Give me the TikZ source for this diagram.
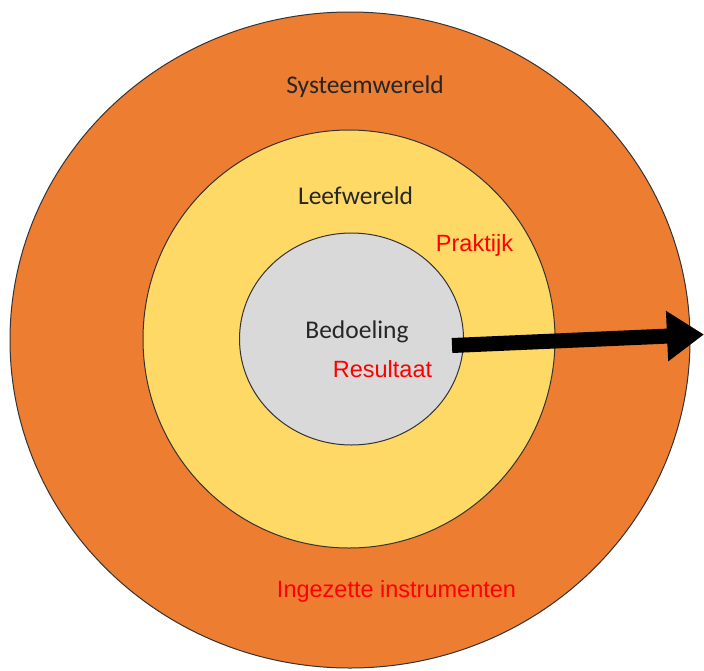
\documentclass[tikz,border=0pt]{standalone}
\usepackage{fontspec}
\usetikzlibrary{arrows.meta}
\newfontfamily\calib{Carlito}
\newfontfamily\arialf{Liberation Sans}
\definecolor{ringorange}{HTML}{ED7D31}
\definecolor{ringyellow}{HTML}{FFD966}
\definecolor{ringgray}{HTML}{D9D9D9}
\definecolor{darktext}{HTML}{262626}
\tikzset{
  ring/.style={draw=black!80, line width=1pt},
  worldlabel/.style={anchor=base, inner sep=0pt, text=darktext, font=\calib\fontsize{25.5}{30}\selectfont},
  redlabel/.style={anchor=base, inner sep=0pt, text=red, font=\arialf\fontsize{23.5}{28}\selectfont},
  bigarrow/.style={line width=15pt, -{Triangle[length=37pt,width=48pt]}}
}
\begin{document}
\begin{tikzpicture}[x=1pt,y=-1pt]
  \useasboundingbox (0,0) rectangle (704,670);
  % nested worlds
  \draw[ring, fill=ringorange] (350,340) ellipse [x radius=340, y radius=328];
  \draw[ring, fill=ringyellow] (349,339) ellipse [x radius=206, y radius=209];
  \draw[ring, fill=ringgray] (351.5,339) ellipse [x radius=112, y radius=106];
  % labels
  \node[worldlabel] (sys) at (365,93) {Systeemwereld};
  \node[worldlabel] (leef) at (355.5,204) {Leefwereld};
  \node[worldlabel] (bed) at (357,338) {Bedoeling};
  \node[redlabel] (prak) at (474.5,251) {Praktijk};
  \node[redlabel] (res) at (382.5,377) {Resultaat};
  \node[redlabel] (inst) at (396.5,597) {Ingezette instrumenten};
  % outgoing arrow
  \coordinate (astart) at (452,345.5);
  \coordinate (aend) at (704,334.5);
  \draw[bigarrow] (astart) -- (aend);
\end{tikzpicture}
\end{document}
